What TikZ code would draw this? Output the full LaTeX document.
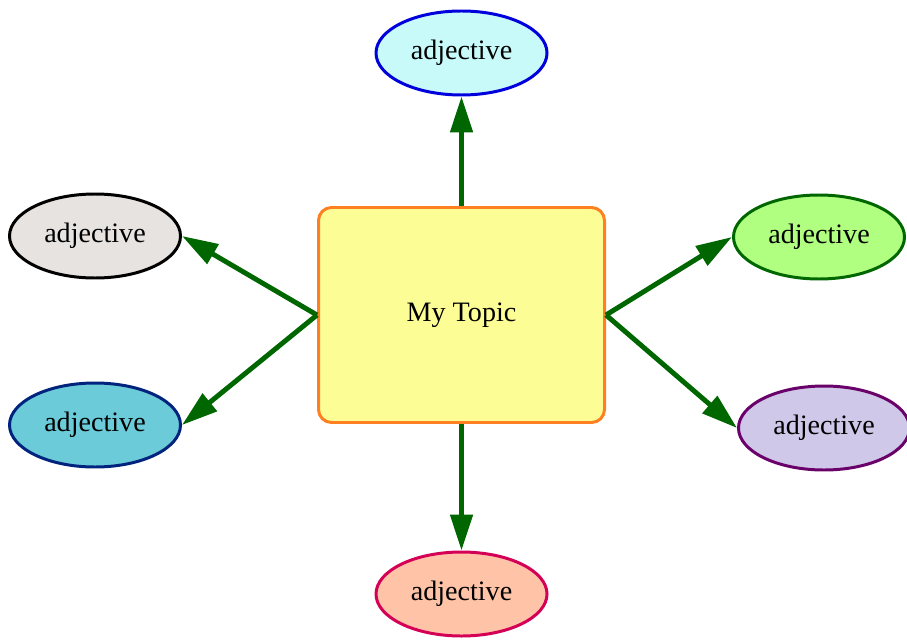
\documentclass[tikz,border=0pt]{standalone}
\usepackage{fontspec}
\setmainfont{Liberation Serif}
\usetikzlibrary{arrows.meta,shapes.geometric}
\definecolor{arrgreen}{HTML}{006600}
\begin{document}
\begin{tikzpicture}
        \tikzset{
        adj/.style={ellipse, minimum width=3.42cm, minimum height=1.68cm, line width=1.7pt, font=\rmfamily\fontsize{16}{18}\selectfont},
        topic/.style={rectangle, rounded corners=0.26cm, minimum width=5.72cm, minimum height=4.3cm, line width=1.7pt, fill={rgb,255:red,253;green,253;blue,150}, draw={rgb,255:red,255;green,128;blue,32}, font=\rmfamily\fontsize{16}{18}\selectfont},
        link/.style={-{Triangle[length=0.72cm, width=0.44cm]}, arrgreen, line width=2.8pt}
        }
        \useasboundingbox (0,0) rectangle (18.14,12.78);
        \node[topic] (t) at (9.23,6.48) {My Topic};
        \node[adj, fill={rgb,255:red,200;green,250;blue,250}, draw={rgb,255:red,0;green,0;blue,221}] (a1) at (9.23,11.72) {adjective};
        \node[adj, fill={rgb,255:red,230;green,227;blue,225}, draw=black] (a2) at (1.9,8.06) {adjective};
        \node[adj, fill={rgb,255:red,107;green,203;blue,217}, draw={rgb,255:red,0;green,36;blue,125}] (a3) at (1.9,4.28) {adjective};
        \node[adj, fill={rgb,255:red,176;green,255;blue,128}, draw=arrgreen] (a4) at (16.38,8.04) {adjective};
        \node[adj, fill={rgb,255:red,208;green,200;blue,232}, draw={rgb,255:red,106;green,0;blue,106}] (a5) at (16.48,4.22) {adjective};
        \node[adj, fill={rgb,255:red,255;green,195;blue,168}, draw={rgb,255:red,212;green,0;blue,85}] (a6) at (9.23,0.9) {adjective};

        \draw[link] (t.north) -- (a1.south);
        \draw[link] (t.west) -- (a2.east);
        \draw[link] (t.west) -- (a3.east);
        \draw[link] (t.east) -- (a4.west);
        \draw[link] (t.east) -- (a5.west);
        \draw[link] (t.south) -- (a6.north);
        \end{tikzpicture}
\end{document}
